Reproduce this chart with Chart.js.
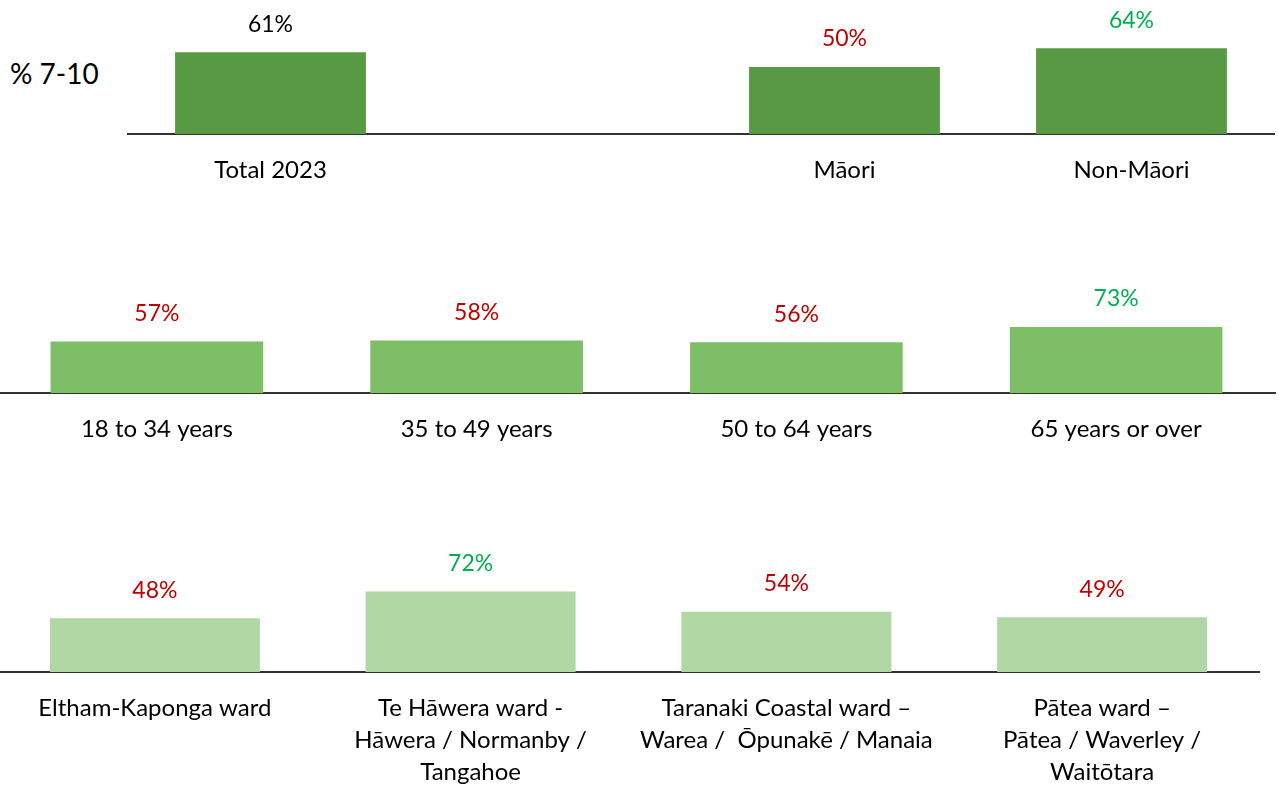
<!DOCTYPE html>
<html>
<head>
<meta charset="utf-8">
<script src="https://cdn.jsdelivr.net/npm/chart.js@4.4.1/dist/chart.umd.min.js"></script>
<style>
  html, body { margin: 0; padding: 0; background: #fff; }
  body { width: 1279px; height: 785px; position: relative; overflow: hidden; font-family: Lato, "Open Sans", sans-serif; }
  .panel { position: absolute; }
  #yTitle { position: absolute; left: 10px; top: 56px; font-size: 28px; color: #000; line-height: 34px; }
</style>
</head>
<body>
<div id="yTitle">% 7-10</div>
<div class="panel" style="left:127px;top:0;width:1148px;height:194px;"><canvas id="chart-ethnic"></canvas></div>
<div class="panel" style="left:-3px;top:250px;width:1279px;height:203px;"><canvas id="chart-age"></canvas></div>
<div class="panel" style="left:-3px;top:520px;width:1263px;height:265px;"><canvas id="chart-ward"></canvas></div>

<script>
/* ── 資料 ───────────────────────────── */
const RED   = '#C00000';
const GREEN = '#00B050';
const BLACK = '#000000';

const ethnicLabels = ['Total 2023', '', 'Māori', 'Non-Māori'];
const ethnicValues = [61, null, 50, 64];
const ethnicLabelColors = [BLACK, null, RED, GREEN];

const ageLabels = ['18 to 34 years', '35 to 49 years', '50 to 64 years', '65 years or over'];
const ageValues = [57, 58, 56, 73];
const ageLabelColors = [RED, RED, RED, GREEN];

const wardLabels = [
  'Eltham-Kaponga ward',
  ['Te Hāwera ward -', 'Hāwera / Normanby /', 'Tangahoe'],
  ['Taranaki Coastal ward –', 'Warea /  Ōpunakē / Manaia'],
  ['Pātea ward –', 'Pātea / Waverley /', 'Waitōtara']
];
const wardValues = [48, 72, 54, 49];
const wardLabelColors = [RED, GREEN, RED, RED];

const FONT = 'Lato, "Open Sans", sans-serif';

/* 在每根長條上方畫百分比 */
const valueLabels = {
  id: 'valueLabels',
  afterDatasetsDraw(chart, args, opts) {
    const ctx = chart.ctx;
    const data = chart.data.datasets[0].data;
    chart.getDatasetMeta(0).data.forEach((bar, i) => {
      if (data[i] == null) return;
      ctx.save();
      ctx.font = '23px ' + FONT;
      ctx.fillStyle = opts.colors[i];
      ctx.textAlign = 'center';
      ctx.textBaseline = 'middle';
      ctx.fillText(data[i] + '%', bar.x, bar.y - 28);
      ctx.restore();
    });
  }
};

function makeChart(id, labels, values, barColor, labelColors, yMax, axisHeight) {
  new Chart(document.getElementById(id), {
    type: 'bar',
    data: {
      labels,
      datasets: [{
        data: values,
        backgroundColor: barColor,
        borderWidth: 0,
        barPercentage: 0.665,
        categoryPercentage: 1
      }]
    },
    options: {
      responsive: true,
      maintainAspectRatio: false,
      devicePixelRatio: 1,
      animation: false,
      layout: { padding: 0 },
      plugins: {
        legend: { display: false },
        tooltip: { enabled: false },
        valueLabels: { colors: labelColors }
      },
      scales: {
        x: {
          grid: { display: false, drawTicks: false },
          border: { display: true, color: '#333333', width: 2 },
          ticks: {
            color: '#000',
            padding: 20,
            maxRotation: 0,
            autoSkip: false,
            font: { family: FONT, size: 24, lineHeight: 1.333 }
          },
          afterFit: s => { s.height = axisHeight; }
        },
        y: { display: false, min: 0, max: yMax }
      }
    },
    plugins: [valueLabels]
  });
}

makeChart('chart-ethnic', ethnicLabels, ethnicValues, '#589A44', ethnicLabelColors, 100, 60);
makeChart('chart-age', ageLabels, ageValues, '#7DBE66', ageLabelColors, 158, 60);
makeChart('chart-ward', wardLabels, wardValues, '#B1D7A4', wardLabelColors, 136, 113);
</script>
</body>
</html>
